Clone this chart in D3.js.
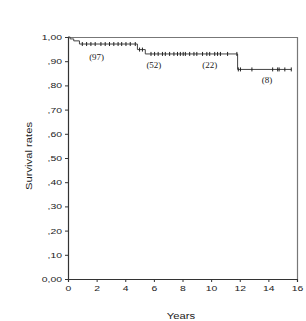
<!DOCTYPE html>
<html>
<head>
<meta charset="utf-8">
<script src="https://cdn.jsdelivr.net/npm/d3@7"></script>
<style>
  body { margin: 0; background: #fff; }
  svg { display: block; }
</style>
</head>
<body>
<svg id="chart" width="306" height="321"></svg>
<script>
// Kaplan-Meier steps (years, survival)
var stepTimes = [0, 0.15, 0.4, 0.8, 4.85, 5.4, 11.85];
var stepSurv = [1.0, 0.992, 0.984, 0.971, 0.948, 0.93, 0.866];
var endTime = 15.6;

// censored observations (years)
var censorTimes = [1.0, 1.3, 1.6, 1.9, 2.3, 2.6, 2.9, 3.2, 3.5, 3.75, 4.05, 4.35, 4.7,
    5.0, 5.2,
    5.8, 6.05, 6.3, 6.6, 6.8, 7.1, 7.4, 7.65, 7.85, 8.05, 8.2, 8.5, 8.8, 9.0,
    9.4, 9.7, 9.9, 10.25, 10.45, 10.65, 11.15, 11.8,
    11.9, 12.05, 12.85, 14.3, 14.65, 14.75, 15.15, 15.6];

// numbers at risk
var riskLabels = ['(97)', '(52)', '(22)', '(8)'];
var riskX = [2.0, 6.0, 9.9, 13.9];
var riskY = [0.905, 0.87, 0.87, 0.81];

var xTicks = [0, 2, 4, 6, 8, 10, 12, 14, 16];
var yTicks = [0, 0.1, 0.2, 0.3, 0.4, 0.5, 0.6, 0.7, 0.8, 0.9, 1.0];

var margin = { top: 37, right: 9, bottom: 42, left: 68 };
var svg = d3.select('#chart');
var width = 306 - margin.left - margin.right;
var height = 321 - margin.top - margin.bottom;

var x = d3.scaleLinear().domain([0, 16]).range([0, width]);
var y = d3.scaleLinear().domain([0, 1]).range([height, 0]);

var g = svg.append('g').attr('transform', 'translate(' + margin.left + ',' + margin.top + ')');

// gray frame on top and right
g.append('path')
    .attr('d', 'M0,0.5H' + (width + 0.5) + 'V' + height)
    .attr('fill', 'none')
    .attr('stroke', '#777')
    .attr('stroke-width', 1.2);

var fmtY = function (d) {
    if (d === 0) return '0,00';
    if (d === 1) return '1,00';
    return ',' + d3.format('.2f')(d).split('.')[1];
};

var yAxis = g.append('g')
    .call(d3.axisLeft(y).tickValues(yTicks).tickFormat(fmtY).tickSize(3).tickPadding(4));
yAxis.selectAll('text')
    .attr('x', 0)
    .attr('transform', 'translate(-6,0) scale(1.3,1)')
    .style('font-family', 'Liberation Sans, Arial, sans-serif')
    .style('font-size', '8px')
    .attr('fill', '#222');

var xAxis = g.append('g')
    .attr('transform', 'translate(0,' + height + ')')
    .call(d3.axisBottom(x).tickValues(xTicks).tickFormat(d3.format('d')).tickSize(3).tickPadding(3));
xAxis.selectAll('text')
    .attr('y', 0)
    .attr('transform', 'translate(0,6) scale(1.3,1)')
    .style('font-family', 'Liberation Sans, Arial, sans-serif')
    .style('font-size', '8px')
    .attr('fill', '#222');

[yAxis, xAxis].forEach(function (ax) {
    ax.select('.domain').attr('stroke', '#333').attr('stroke-width', 1.2);
    ax.selectAll('.tick line').attr('stroke', '#333');
});

// survival curve
var pts = stepTimes.map(function (t, i) { return [t, stepSurv[i]]; });
pts.push([endTime, stepSurv[stepSurv.length - 1]]);
var line = d3.line()
    .x(function (d) { return x(d[0]); })
    .y(function (d) { return y(d[1]); })
    .curve(d3.curveStepAfter);

g.append('path')
    .datum(pts)
    .attr('d', line)
    .attr('fill', 'none')
    .attr('stroke', '#444')
    .attr('stroke-width', 1);

var survAt = function (t) {
    var s = stepSurv[0];
    stepTimes.forEach(function (st, i) { if (t >= st) s = stepSurv[i]; });
    return s;
};

g.selectAll('.censor')
    .data(censorTimes)
    .enter().append('line')
    .attr('class', 'censor')
    .attr('x1', function (d) { return x(d); })
    .attr('x2', function (d) { return x(d); })
    .attr('y1', function (d) { return y(survAt(d)) - 2; })
    .attr('y2', function (d) { return y(survAt(d)) + 2; })
    .attr('stroke', '#222')
    .attr('stroke-width', 1);

g.selectAll('.risk')
    .data(riskLabels)
    .enter().append('text')
    .attr('class', 'risk')
    .attr('x', function (d, i) { return x(riskX[i]); })
    .attr('y', function (d, i) { return y(riskY[i]); })
    .attr('text-anchor', 'middle')
    .style('font-family', 'Liberation Serif, Times New Roman, serif')
    .style('font-size', '9px')
    .attr('fill', '#222')
    .text(function (d) { return d; });

// axis titles
svg.append('text')
    .attr('transform', 'translate(32,156) rotate(-90) scale(1.25,1)')
    .attr('text-anchor', 'middle')
    .style('font-family', 'Liberation Sans, Arial, sans-serif')
    .style('font-size', '9px')
    .attr('fill', '#222')
    .text('Survival rates');

svg.append('text')
    .attr('transform', 'translate(181,319) scale(1.25,1)')
    .attr('text-anchor', 'middle')
    .style('font-family', 'Liberation Sans, Arial, sans-serif')
    .style('font-size', '9px')
    .attr('fill', '#222')
    .text('Years');
</script>
</body>
</html>
